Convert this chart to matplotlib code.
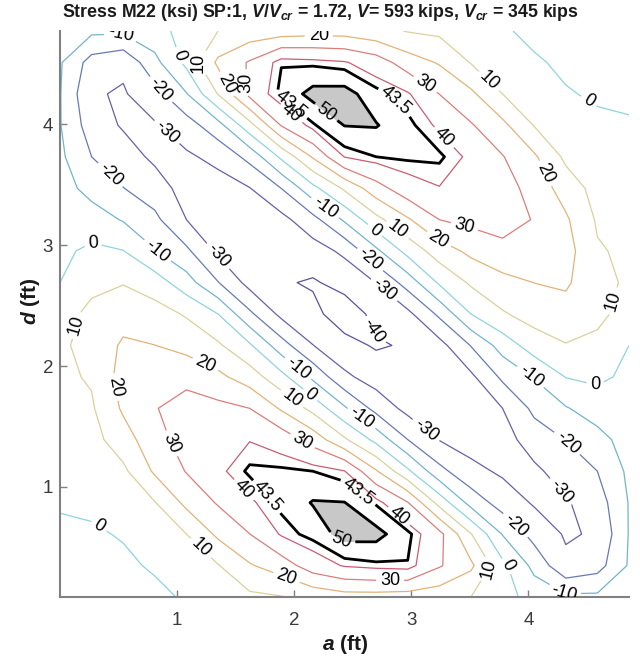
import numpy as np
import matplotlib
matplotlib.use('Agg')
import matplotlib.pyplot as plt

# grid where the stress was read, ft
a_ft = [0.0, 0.27, 0.54, 0.81, 1.08, 1.35, 1.62, 1.89, 2.16, 2.43,
        2.70, 2.97, 3.24, 3.51, 3.78, 4.05, 4.32, 4.59, 4.86]
d_ft = [0.09, 0.35, 0.61, 0.87, 1.13, 1.39, 1.65, 1.91, 2.17, 2.43,
        2.69, 2.95, 3.21, 3.47, 3.73, 3.99, 4.25, 4.51, 4.77]

# stress M22 (ksi), one row per d value (bottom row first), one column per a value
m22 = [
    [-5, -4.5, -3.5, -2, 1, 5, 8, 9.5, 13, 16, 16, 15, 14, 10, 4, -4, -8, -8, -6],
    [-3, -3, -1.5, 1, 5.5, 9.5, 19.1, 24.9, 35.3, 40.7, 42.3, 43.2, 31, 22, 2.5, -12.8, -28, -24, -9],
    [-1, -1, 0.6, 5.3, 10, 22, 29.9, 40.9, 45.5, 53, 52.5, 45, 33, 10.5, -10.5, -23.7, -31, -29, -9.5],
    [0.5, 1.5, 4.3, 9.6, 22.5, 30.9, 38.7, 45, 50.5, 50.2, 42.7, 30.5, 6.4, -13.7, -24.6, -31, -31, -25, -9.5],
    [2.5, 4, 7.9, 21.5, 30.5, 38.4, 44.5, 44.5, 43.5, 40.3, 21, 1.9, -17, -27.3, -31.5, -32, -25.5, -20, -8],
    [4.5, 6.5, 15.4, 26.5, 34, 38.3, 39.7, 36.2, 26, 11.6, -2.8, -19.9, -30.3, -34, -34, -25.3, -19.8, -13.3, -6],
    [6.5, 8.8, 21.5, 29.5, 34, 32.7, 30, 18.8, 7, -8.6, -23.4, -33, -35, -36, -30, -17.7, -10.7, -5.5, -4],
    [8, 11, 24, 27, 27.2, 22.3, 15, 3.3, -12.2, -28, -34.5, -39, -37, -32, -18, -9.4, 0.3, 2, -2],
    [8.5, 13, 21.5, 20.1, 16.8, 11.5, 1.4, -15.7, -29.8, -36.9, -41, -39, -33.5, -19.6, -5.8, 5, 9.5, 7.5, 0],
    [6, 12.5, 16, 14, 9, 0, -18, -32.5, -37.5, -45, -37.5, -32.5, -18, 0, 9, 14, 16, 12.5, 6],
    [0, 7.5, 9.5, 5, -5.8, -19.6, -33.5, -39, -41, -36.9, -29.8, -15.7, 1.4, 11.5, 16.8, 20.1, 21.5, 13, 8.5],
    [-2, 2, 0.3, -9.4, -18, -32, -37, -39, -34.5, -28, -12.2, 3.3, 15, 22.3, 27.2, 27, 24, 11, 8],
    [-4, -5.5, -10.7, -17.7, -30, -36, -35, -33, -23.4, -8.6, 7, 18.8, 30, 32.7, 34, 29.5, 21.5, 8.8, 6.5],
    [-6, -13.3, -19.8, -25.3, -34, -34, -30.3, -19.9, -2.8, 11.6, 26, 36.2, 39.7, 38.3, 34, 26.5, 15.4, 6.5, 4.5],
    [-8, -20, -25.5, -32, -31.5, -27.3, -17, 1.9, 21, 40.3, 43.5, 44.5, 44.5, 38.4, 30.5, 21.5, 7.9, 4, 2.5],
    [-9.5, -25, -31, -31, -24.6, -13.7, 6.4, 30.5, 42.7, 50.2, 50.5, 45, 38.7, 30.9, 22.5, 9.6, 4.3, 1.5, 0.5],
    [-9.5, -29, -31, -23.7, -10.5, 10.5, 33, 45, 52.5, 53, 45.5, 40.9, 29.9, 22, 10, 5.3, 0.6, -1, -1],
    [-9, -24, -28, -12.8, 2.5, 22, 31, 43.2, 42.3, 40.7, 35.3, 24.9, 19.1, 9.5, 5.5, 1, -1.5, -3, -3],
    [-6, -8, -8, -4, 4, 10, 14, 15, 16, 16, 13, 9.5, 8, 5, 1, -2, -3.5, -4.5, -5],
]

levels = [-40, -30, -20, -10, 0, 10, 20, 30, 40]
level_colors = ['#5e4f9a', '#6a5eaa', '#6679b8', '#72b3cf', '#8fd3dc',
                '#d9d19c', '#e3b277', '#da7d7a', '#c95c72']
crit_levels = [43.5, 50]

# where the inline labels sit (ft)
label_xy = [(0.52, 4.72), (0.97, 4.55), (1.14, 4.51), (1.38, 4.31), (1.52, 4.34),
            (0.88, 4.30), (0.91, 3.93), (2.21, 4.69), (1.96, 4.07), (3.12, 4.33),
            (3.28, 3.89), (3.66, 4.35), (4.51, 4.18), (4.12, 3.58), (0.41, 3.56),
            (2.25, 3.29), (0.28, 3.02), (0.82, 2.94), (1.33, 2.89), (2.68, 3.11),
            (2.87, 3.11), (3.23, 3.04), (3.44, 3.10), (2.63, 2.86), (2.77, 2.63),
            (2.71, 2.30), (4.68, 2.55), (0.20, 2.32), (1.23, 1.99), (0.44, 1.82),
            (2.06, 2.01), (1.95, 1.69), (2.12, 1.74), (2.57, 1.56), (3.11, 1.45),
            (3.99, 1.87), (4.56, 1.79), (2.06, 1.36), (0.89, 1.33), (4.30, 1.33),
            (4.30, 0.98), (1.52, 0.93), (2.88, 0.74), (0.31, 0.64), (1.16, 0.45),
            (1.95, 0.29), (2.82, 0.21), (3.85, 0.64), (3.68, 0.31), (3.85, 0.36),
            (4.30, 0.11)]
crit_xy = [(1.91, 4.09), (2.29, 4.12), (2.85, 4.18), (1.69, 0.85), (2.51, 0.91), (2.40, 0.55)]

plt.rcParams['font.family'] = ['Liberation Sans', 'DejaVu Sans']
plt.rcParams['mathtext.fontset'] = 'custom'
plt.rcParams['mathtext.it'] = 'Liberation Sans:italic:bold'
plt.rcParams['mathtext.rm'] = 'Liberation Sans:bold'
plt.rcParams['mathtext.bf'] = 'Liberation Sans:bold'

fig = plt.figure(figsize=(6.4, 6.63), dpi=100)
ax = fig.add_axes([60/640, 66/663, 569/640, 566/663])

A, D = np.meshgrid(a_ft, d_ft)
Z = np.array(m22)

ax.contourf(A, D, Z, levels=[50, 100], colors=['#c8c8c8'])
cs = ax.contour(A, D, Z, levels=levels, colors=level_colors, linewidths=0.9)
cb = ax.contour(A, D, Z, levels=crit_levels, colors='k', linewidths=2.0)
ax.clabel(cs, fmt='%g', fontsize=13, colors='k', manual=label_xy, inline_spacing=4)
ax.clabel(cb, fmt='%g', fontsize=13, colors='k', manual=crit_xy, inline_spacing=4)

ax.set_xlim(0.0, 4.86)
ax.set_ylim(0.09, 4.77)
ax.set_xticks([1, 2, 3, 4])
ax.set_yticks([1, 2, 3, 4])
ax.spines['top'].set_visible(False)
ax.spines['right'].set_visible(False)
for s in ['left', 'bottom']:
    ax.spines[s].set_color('#808080')
    ax.spines[s].set_linewidth(1.5)
ax.tick_params(direction='in', length=5, width=1, color='#808080',
               labelsize=13.5, labelcolor='#3a3a3a')
ax.tick_params(axis='x', pad=11)
ax.tick_params(axis='y', pad=5)

fig.text(0.5, 0.981, r'Stress M22 (ksi) SP:1, $V/V_{cr}$ = 1.72, $V$= 593 kips, $V_{cr}$ = 345 kips',
         ha='center', va='center', fontsize=12.8, fontweight='bold', color='#1a1a1a')
fig.text(0.539, 0.028, r'$a$ (ft)', ha='center', va='center', fontsize=15, fontweight='bold', color='#1a1a1a')
fig.text(0.047, 0.545, r'$d$ (ft)', ha='center', va='center', fontsize=15, fontweight='bold',
         rotation=90, color='#1a1a1a')

fig.savefig('out.png', dpi=100)
